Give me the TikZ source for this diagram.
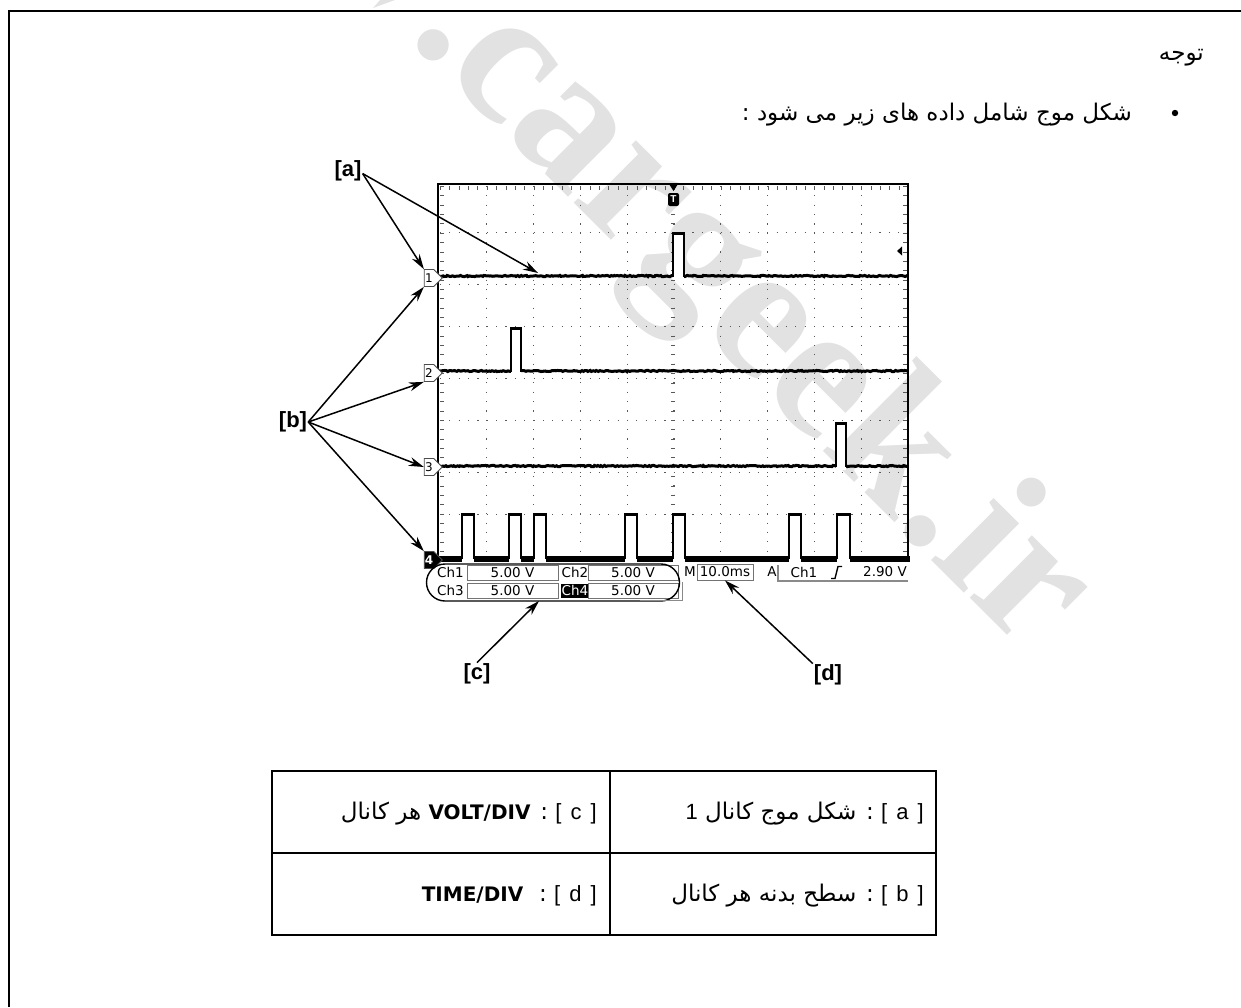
\documentclass[tikz,border=0pt]{standalone}
\usepackage{fontspec}
\setmainfont{Liberation Sans}
\newfontfamily\arabicfont[Script=Arabic]{DejaVu Sans}
\newfontfamily\scopefont{DejaVu Sans}
\newfontfamily\markfont{Liberation Serif}
\TeXXeTstate=1
\usetikzlibrary{arrows.meta,positioning,decorations.pathmorphing,shapes.symbols,shapes.misc}
\definecolor{wmgray}{HTML}{E2E2E2}
\definecolor{boxgray}{HTML}{8A8A8A}
\newcommand{\cellkey}[1]{\beginL{\fontsize{22}{24}\selectfont\rmfamily [\hspace{3pt} #1\hspace{3pt} ]}\endL}
\newcommand{\cellnum}[1]{\beginL{\fontsize{22}{24}\selectfont\rmfamily #1}\endL}
\newcommand{\cellunit}[1]{\beginL{\fontsize{20}{24}\selectfont\scopefont\bfseries #1}\endL}

\begin{document}
\begin{tikzpicture}[x=1pt, y=-1pt,
    farsi/.style={inner sep=0pt, anchor=mid east, font=\fontsize{23}{26}\selectfont\arabicfont},
    callout/.style={font=\fontsize{22}{24}\selectfont\bfseries, inner sep=1pt},
    pointer/.style={-{Stealth[length=15pt,width=9pt]}, line width=1.5pt},
    griddot/.style={black!65, line width=1.1pt, dash pattern=on 1.1pt off 8.25pt},
    tickmark/.style={black!65, line width=3.5pt, dash pattern=on .8pt off 8.56pt},
    trace/.style={line width=3pt, decorate, decoration={random steps,segment length=1.6pt,amplitude=.6pt}},
    pulse/.style={line width=1.7pt},
    chmark/.style={draw=black!70, fill=white, signal, signal to=east, line width=.8pt, inner sep=0pt,
                   minimum width=18pt, minimum height=17pt, font=\fontsize{12}{12}\selectfont\scopefont},
    ctext/.style={inner sep=0pt, font=\fontsize{13.5}{14}\selectfont\scopefont},
    readout/.style={draw=black!55, line width=.9pt, inner sep=0pt, font=\fontsize{13.5}{14}\selectfont\scopefont},
]
  \useasboundingbox (0,0) rectangle (1241,1007);

  % watermark
  \fill[wmgray] (373,8) -- (395,0) -- (380,0) -- cycle;
  \node[text=wmgray, inner sep=0pt, anchor=base west, rotate=-44.9,
        font=\fontsize{192}{192}\selectfont\bfseries\markfont] (wmark) at (407.6,37.6) {.cargeek.ir};

  % page border
  \draw[line width=2.4pt] (1241,11) -- (9,11) -- (9,1007);

  % heading
  \node[farsi] (head) at (1204,58) {\beginR توجه\endR};
  \node[farsi] (intro) at (1132,118) {\beginR شکل موج شامل داده های زیر می شود :\endR};
  \fill (1175,113) circle (3.2pt);

  % grid
  \foreach \i in {1,...,9}
    \draw[griddot] (440+46.8*\i,186) -- (440+46.8*\i,558);
  \foreach \j in {1,3,5,7}
    \draw[griddot] (440,186+46.9*\j) -- (908,186+46.9*\j);
  \foreach \j in {2,4,6}
    \draw[griddot] (440,191+46.9*\j) -- (908,191+46.9*\j);
  \draw[tickmark] (673,186) -- (673,556);
  \draw[tickmark] (442,186) -- (442,556);
  \draw[tickmark] (905,186) -- (905,556);
  \draw[tickmark] (440,188) -- (906,188);

  % screen frame
  \draw[line width=2.4pt] (438,559) -- (438,184) -- (908,184) -- (908,559);

  % traces
  \pgfmathsetseed{17}
  \draw[trace] (438,276) -- (908,276);
  \draw[trace] (438,371) -- (908,371);
  \draw[trace] (438,466) -- (908,466);
  \draw[line width=5.5pt] (436,559) -- (910,559);

  % pulses
  \foreach \xa/\xb/\ytop/\ybase in {673/684/233/280, 511/521/328/375, 836/846/423/470,
      462/474/514/562, 509/521/514/562, 534/546/514/562, 625/637/514/562,
      673/685/514/562, 789/801/514/562, 837/850/514/562} {
    \fill[white] (\xa,\ytop) rectangle (\xb,\ybase);
    \draw[pulse] (\xa,\ybase-3) -- (\xa,\ytop) -- (\xb,\ytop) -- (\xb,\ybase-3);
    \draw[line width=3pt] (\xa+1,\ytop) -- (\xb-1,\ytop);
  }

  % trigger marks
  \fill (669,184) -- (678,184) -- (673.5,191) -- cycle;
  \node[fill=black, text=white, rounded corners=2pt, inner sep=0pt, minimum width=11pt, minimum height=13pt,
        font=\fontsize{10}{10}\selectfont\bfseries] (trig) at (673.5,199.5) {T};
  \fill (897,251) -- (902,246.5) -- (902,255.5) -- cycle;

  % channel marks
  \node[chmark] (mone)   at (429,278) {1};
  \node[chmark] (mtwo)   at (429,373) {2};
  \node[chmark] (mthree) at (429,467) {3};
  \node[chmark, fill=black, text=white] (mfour) at (429,560) {\bfseries 4};

  % read-outs
  \node[readout, minimum width=91pt, minimum height=15pt] (vone) at (512.5,572.5) {5.00 V};
  \node[ctext] (chone)  at (450.5,572.5) {Ch1};
  \node[ctext] (chtwo)  at (575,572.5) {Ch2};
  \node[readout, minimum width=90pt, minimum height=15pt] (vtwo) at (633,572.5) {5.00 V};
  \node[ctext] (chthree) at (450.5,590.5) {Ch3};
  \node[readout, minimum width=91pt, minimum height=15pt] (vthree) at (512.5,590.5) {5.00 V};
  \node[ctext, fill=black, text=white, minimum width=28pt, minimum height=14pt] (chfour) at (575,590.5) {Ch4};
  \node[readout, minimum width=90pt, minimum height=15pt] (vfour) at (633,590.5) {5.00 V};
  \node[draw, rounded rectangle, line width=1.4pt, minimum width=253pt, minimum height=37pt, inner sep=0pt] (oval) at (553,582.5) {};
  \draw[boxgray, line width=1pt] (682,582) -- (682,600) -- (640,600);

  \node[ctext] (mlab) at (690,572) {M};
  \node[readout, minimum width=56pt, minimum height=16pt] (tdiv) at (725,572) {10.0ms};
  \node[ctext] (alab) at (772,572) {A};
  \node[ctext] (trch) at (804,572) {Ch1};
  \node[ctext] (trval) at (885,572) {2.90 V};
  \draw[line width=1.4pt] (831,578.5) -- (835,578.5) -- (838,566.5) -- (842,566.5);
  \draw[boxgray, line width=1.4pt] (778,565) -- (778,581) -- (908,581);

  % callouts
  \node[callout] (la) at (348,171) {[a]};
  \node[callout] (lb) at (293,422) {[b]};
  \node[callout] (lc) at (477,674) {[c]};
  \node[callout] (ld) at (828,675) {[d]};
  \coordinate (wave) at (538,273);
  \coordinate (ovalpt) at (539,601);

  \draw[pointer] (la.-10) -- (mone.north west);
  \draw[pointer] (la.-10) -- (wave);
  \draw[pointer] (lb.east) -- (mone.south west);
  \draw[pointer] (lb.east) -- (mtwo.south west);
  \draw[pointer] (lb.east) -- (mthree.west);
  \draw[pointer] (lb.east) -- (mfour.north west);
  \draw[pointer] (lc.north) -- (ovalpt);
  \draw[pointer] (ld.north west) -- (tdiv.south);

  % table
  \draw[line width=1.6pt] (272,771) rectangle (936,935);
  \draw[line width=1.6pt] (272,853) -- (936,853);
  \draw[line width=1.6pt] (610,771) -- (610,935);
  \node[farsi] (cella) at (924,817) {\beginR\cellkey{a} : شکل موج کانال \cellnum{1}\endR};
  \node[farsi] (cellb) at (924,899) {\beginR\cellkey{b} : سطح بدنه هر کانال\endR};
  \node[farsi] (cellc) at (597,817) {\beginR\cellkey{c} : \cellunit{VOLT/DIV} هر کانال\endR};
  \node[farsi] (celld) at (597,899) {\beginR\cellkey{d} :\hspace{6pt} \cellunit{TIME/DIV}\endR};
\end{tikzpicture}
\end{document}
